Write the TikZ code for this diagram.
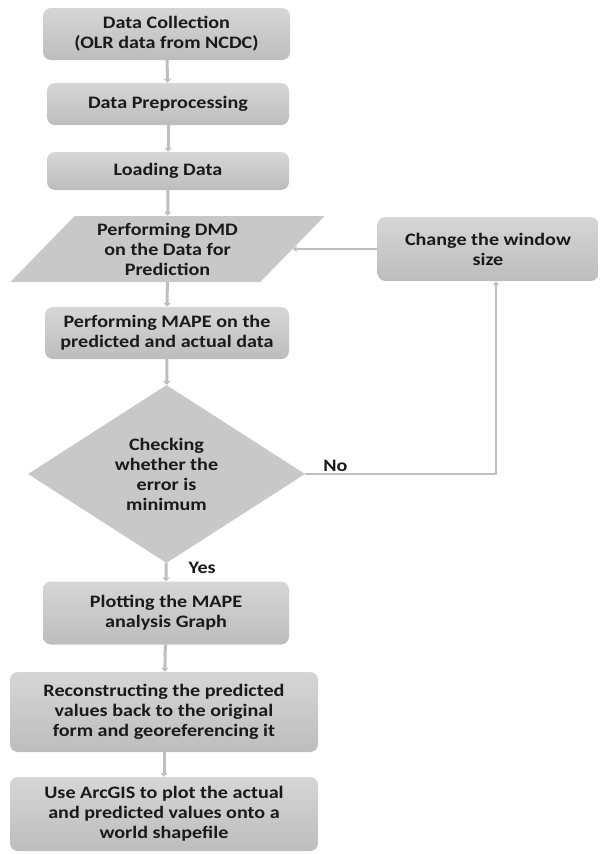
\documentclass[tikz,border=0pt]{standalone}
\usepackage{fontspec}
\setmainfont{Carlito}[FakeStretch=1.15]
\usetikzlibrary{shapes.geometric,arrows.meta}

\definecolor{boxtop}{HTML}{D6D6D6}
\definecolor{boxbot}{HTML}{BDBDBD}
\definecolor{shapefill}{HTML}{C8C8C8}
\definecolor{arrgray}{HTML}{BFBFBF}
\definecolor{txt}{HTML}{1A1A1A}

\begin{document}
\begin{tikzpicture}
[
	x=1pt, y=-1pt,
	every node/.style={font=\fontsize{17.5}{20}\selectfont\bfseries, text=txt},
	procbox/.style={rectangle, rounded corners=8pt, top color=boxtop, bottom color=boxbot,
		draw=none, align=center, inner sep=2pt},
	iobox/.style={trapezium, trapezium left angle=47, trapezium right angle=133,
		trapezium stretches=true, fill=shapefill, align=center, inner sep=0pt},
	decbox/.style={diamond, fill=shapefill, align=center, inner sep=0pt, aspect=1.556},
	flow/.style={arrgray, line width=3pt, -{Triangle[width=7pt,length=4pt]}},
	loopline/.style={arrgray, line width=2pt, -{Triangle[width=6pt,length=4pt]}}
]

	\useasboundingbox (0,0) rectangle (600,854);

	% main column
	\node[procbox, minimum width=247pt, minimum height=52pt] (collect) at (166.5,34)
		{Data Collection\\(OLR data from NCDC)};
	\node[procbox, minimum width=242pt, minimum height=42pt] (prep) at (168,104)
		{Data Preprocessing};
	\node[procbox, minimum width=242pt, minimum height=38pt] (load) at (168,171)
		{Loading Data};
	\node[iobox, minimum width=315pt, minimum height=66pt] (dmd) at (167.5,249)
		{Performing DMD\\on the Data for\\Prediction};
	\node[procbox, minimum width=244pt, minimum height=52pt] (mape) at (167,333)
		{Performing MAPE on the\\predicted and actual data};
	\node[decbox, minimum width=277pt, minimum height=178pt] (check) at (166.5,474)
		{Checking\\whether the\\error is\\minimum};
	\node[procbox, minimum width=246pt, minimum height=63pt] (plot) at (166,613)
		{Plotting the MAPE\\analysis Graph};
	\node[procbox, minimum width=308pt, minimum height=80pt] (recon) at (164,712)
		{Reconstructing the predicted\\values back to the original\\form and georeferencing it};
	\node[procbox, minimum width=308pt, minimum height=74pt] (arcgis) at (164,814)
		{Use ArcGIS to plot the actual\\and predicted values onto a\\world shapefile};

	% loop box
	\node[procbox, minimum width=221pt, minimum height=64pt] (window) at (488,249)
		{Change the window\\size};

	% arrows
	\draw[flow] (collect) -- (prep);
	\draw[flow] (prep) -- (load);
	\draw[flow] (load) -- (dmd);
	\draw[flow] (dmd) -- (mape);
	\draw[flow] (mape) -- (check);
	\draw[flow] (check) -- (plot);
	\draw[flow] (plot) -- (recon);
	\draw[flow] (recon) -- (arcgis);

	\draw[loopline] (check.east) -| ([xshift=8pt]window.south);
	\draw[loopline] (window.west) -- (dmd.east);

	\node[anchor=south west, inner sep=1pt] (nolbl) at ([xshift=17pt,yshift=1pt]check.east) {No};
	\node[anchor=west, inner sep=1pt] (yeslbl) at ([xshift=21pt,yshift=-5pt]check.south) {Yes};

\end{tikzpicture}
\end{document}
